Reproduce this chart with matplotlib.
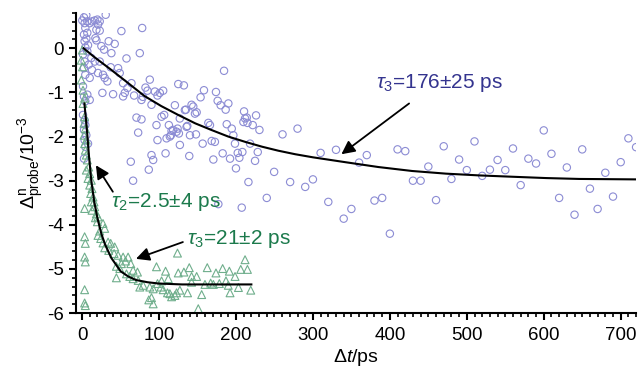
from matplotlib import pyplot as plt
from matplotlib.ticker import MultipleLocator

plt.rcParams['font.family'] = ['Liberation Sans', 'DejaVu Sans']
plt.rcParams['mathtext.fontset'] = 'custom'
plt.rcParams['mathtext.rm'] = 'Liberation Sans'
plt.rcParams['mathtext.it'] = 'Liberation Sans:italic'

# blue circles (delay in ps, signal in 1e-3)
blue_t = [0.3, 2.5, 5.5, 3.3, 6.8, 9.9, 12.9, 16.4, 19.9, 22.9, 20.7, 18.6, 22.9, 30.7,
          4.2, 6.8, 2.5, 5.5, 3.3, 7.7, 4.2, 6.8, 1.2, 3.3, 8.6, 2.5, 4.2, 9.9, 1.2, 6.8,
          2.5, 4.2, 9.9, 17.3, 18.6, 25.1, 34.6, 42.4, 38.1, 28.6, 51.1, 78.1, 75.0, 12.0,
          16.4, 22.9, 12.9, 20.7, 27.2, 29.4, 32.9, 37.2, 46.8, 48.9, 53.3, 64.2, 88.0, 82.4,
          85.0, 101.0, 98.0, 59.0, 55.5, 53.3, 26.4, 40.3, 67.6, 77.2, 90.2, 120.6, 125.0,
          1.2, 3.3, 4.2, 2.5, 5.5, 3.3, 4.2, 2.5, 7.7, 70.7, 77.2, 72.9, 96.7, 103.3, 106.7,
          112.8, 118.4, 124.1, 125.8, 115.4, 109.8, 98.0, 127.1, 90.2, 92.4, 108.5, 63.3,
          86.7, 66.3, 127.0, 184.5, 132.3, 158.4, 154.0, 174.0, 176.2, 180.1, 190.1, 186.6,
          142.3, 144.5, 134.9, 148.9, 210.5, 226.1, 214.0, 146.7, 164.1, 166.2, 188.0, 194.5,
          211.8, 214.9, 221.8, 230.5, 196.6, 136.7, 140.2, 148.0, 156.7, 168.4, 172.6, 198.7,
          218.3, 139.3, 170.6, 182.7, 192.3, 202.3, 208.3, 204.4, 228.3, 224.8, 200.0, 249.6,
          260.5, 280.0, 216.2, 240.0, 270.4, 207.5, 177.1, 94.6, 105.4, 133.6, 116.3, 122.8,
          135.8, 209.7, 114.1, 57.7, 79.0,
          290, 300, 310, 320, 330, 340, 350, 360, 370, 380, 390, 400, 410, 420, 430, 440,
          450, 460, 470, 480, 490, 500, 510, 520, 530, 540, 550, 560, 570, 580, 590, 600,
          610, 620, 630, 640, 650, 660, 670, 680, 690, 700, 710, 720]
blue_y = [0.63, 0.70, 0.75, 0.57, 0.61, 0.57, 0.61, 0.63, 0.65, 0.61, 0.54, 0.42, 0.40, 0.76,
          0.46, 0.35, 0.31, 0.22, 0.16, 0.07, 0.02, -0.07, -0.14, -0.30, -0.37, -0.45, -0.60,
          -0.67, -0.86, -1.05, -1.09, -1.20, -1.17, 0.23, 0.18, 0.05, 0.16, 0.10, -0.11, -0.03,
          0.39, 0.46, -0.11, -0.22, -0.30, -0.30, -0.49, -0.56, -0.60, -0.67, -0.75, -0.43,
          -0.45, -0.56, -0.79, -0.79, -0.71, -0.89, -0.96, -1.01, -1.07, -0.90, -1.01, -1.09,
          -1.01, -1.04, -1.07, -1.17, -1.28, -1.29, -0.81, -1.51, -1.63, -1.74, -1.85, -1.97,
          -2.08, -2.23, -2.50, -2.16, -1.57, -1.61, -1.91, -1.74, -1.55, -1.51, -1.74, -1.85,
          -1.82, -1.93, -1.97, -2.04, -2.08, -2.19, -2.42, -2.53, -2.38, -2.57, -2.75, -3.00,
          -1.59, -0.51, -0.84, -0.95, -1.11, -0.99, -1.19, -1.29, -1.25, -1.39, -1.28, -1.32,
          -1.39, -1.45, -1.43, -1.52, -1.57, -1.48, -1.69, -1.74, -1.72, -1.82, -1.59, -1.69,
          -1.74, -1.85, -1.97, -1.76, -1.97, -1.95, -2.16, -2.10, -2.12, -2.16, -2.16, -2.44,
          -2.52, -2.38, -2.50, -2.37, -2.35, -2.48, -2.35, -2.55, -2.72, -2.80, -1.95, -1.82,
          -3.03, -3.39, -3.03, -3.61, -3.53, -0.98, -0.96, -1.40, -1.87, -1.89, -1.78, -1.67,
          -2.00, -0.23, -1.10,
          -3.14, -2.97, -2.37, -3.48, -2.30, -3.86, -3.64, -2.59, -2.42, -3.45, -3.39, -4.20,
          -2.29, -2.33, -3.00, -3.00, -2.68, -3.44, -2.22, -2.96, -2.52, -2.76, -2.11, -2.89,
          -2.75, -2.53, -2.76, -2.27, -3.10, -2.50, -2.61, -1.86, -2.39, -3.39, -2.70, -3.77,
          -2.29, -3.18, -3.64, -2.82, -3.36, -2.58, -2.04, -2.24]

# green triangles
green_t = [0.3, -1.0, 0.5, -1.0, 1.2, 3.3, 1.2, 3.3, 2.5, 4.2, 2.5, 5.5, 3.3, 4.2, 5.5, 6.8,
           8.6, 5.5, 9.9, 7.7, 12.0, 9.9, 12.9, 11.1, 14.2, 12.0, 15.5, 16.4, 18.6, 20.7, 12.9,
           3.3, 3.3, 4.2, 3.3, 4.2, 3.3, 3.3, 4.2, 17.3, 19.9, 27.2, 29.4, 22.9, 20.7, 24.2,
           27.2, 33.8, 37.2, 29.4, 34.6, 42.4, 41.6, 46.8, 53.3, 59.8, 56.4, 63.3, 51.1, 44.6,
           49.0, 66.3, 72.0, 57.7, 62.0, 44.6, 66.3, 72.9, 79.3, 75.0, 88.0, 92.4, 98.0, 102.4,
           105.4, 108.5, 114.1, 120.6, 125.0, 124.0, 96.7, 90.2, 86.7, 116.3, 111.0, 132.3,
           139.3, 142.3, 162.7, 174.0, 182.7, 191.4, 198.8, 206.2, 214.9, 211.8, 167.1, 170.6,
           178.4, 187.0, 203.2, 192.3, 219.2, 155.4, 151.0, 142.3, 127.1, 122.8, 137.1, 92.4,
           159.7, 190.0, 112.0, 103.3, 148.9]
green_y = [-0.04, -0.27, -0.42, -0.72, -0.95, -1.13, -1.25, -1.55, -1.70, -1.82, -1.97, -2.08,
           -2.16, -2.31, -2.42, -2.53, -2.69, -2.76, -2.84, -2.95, -2.99, -3.10, -3.18, -3.29,
           -3.37, -3.48, -3.48, -3.59, -3.75, -3.82, -3.67, -3.63, -4.27, -4.42, -4.73, -4.84,
           -5.47, -5.77, -5.83, -3.84, -3.93, -3.97, -4.08, -4.14, -4.24, -4.31, -4.41, -4.39,
           -4.42, -4.52, -4.58, -4.50, -4.65, -4.69, -4.73, -4.73, -4.82, -4.88, -4.88, -4.94,
           -4.99, -5.03, -5.07, -5.11, -5.17, -5.20, -5.22, -5.26, -5.37, -5.41, -5.41, -5.45,
           -5.33, -5.41, -5.47, -5.05, -5.56, -5.60, -5.09, -4.64, -4.95, -5.65, -5.70, -5.63,
           -5.54, -5.07, -4.97, -5.17, -4.97, -5.09, -4.99, -5.05, -5.17, -5.01, -5.01, -4.79,
           -5.32, -5.35, -5.33, -5.27, -5.42, -5.54, -5.48, -5.58, -5.90, -5.30, -5.48, -5.54,
           -5.54, -5.79, -5.35, -5.37, -5.22, -5.27, -5.17]

# fitted curves
fit_blue_t = [2, 16, 38, 60, 81, 103, 125, 147, 168, 190, 212, 234, 255, 277, 300, 342, 385,
              429, 473, 516, 559, 603, 646, 720]
fit_blue_y = [0.0, -0.20, -0.49, -0.79, -1.08, -1.31, -1.51, -1.70, -1.85, -2.00, -2.12,
              -2.23, -2.32, -2.40, -2.47, -2.58, -2.69, -2.78, -2.84, -2.88, -2.91, -2.94,
              -2.96, -2.97]
fit_green_t = [3, 5, 7, 9, 12, 16, 20, 25, 30, 38, 50, 60, 70, 85, 100, 130, 160, 190, 220]
fit_green_y = [-1.25, -1.6, -2.0, -2.45, -3.0, -3.5, -3.85, -4.2, -4.45, -4.75, -5.05, -5.17,
               -5.25, -5.30, -5.33, -5.35, -5.35, -5.35, -5.35]

blue_edge = '#8c8cd4'
green_edge = '#6fae8c'
blue_text = '#34348f'
green_text = '#1c7a4c'


def draw_chart():
    """Draw the two transients with their fits and the lifetime labels."""
    fig = plt.figure(figsize=(6.38, 3.71), dpi=100)
    ax = fig.add_axes([0.119, 0.156, 0.878, 0.809])

    ax.scatter(blue_t, blue_y, s=28, marker='o', facecolors='none',
               edgecolors=blue_edge, linewidths=0.8, zorder=2)
    ax.scatter(green_t, green_y, s=32, marker='^', facecolors='none',
               edgecolors=green_edge, linewidths=0.8, zorder=2)
    ax.plot(fit_blue_t, fit_blue_y, color='k', lw=1.5, zorder=3)
    ax.plot(fit_green_t, fit_green_y, color='k', lw=1.5, zorder=3)

    arrow = dict(arrowstyle='-|>', color='k', lw=1.3, mutation_scale=20,
                 shrinkA=0, shrinkB=0)
    ax.annotate('', xy=(337, -2.40), xytext=(425, -1.25), arrowprops=arrow, zorder=4)
    ax.annotate('', xy=(18, -2.65), xytext=(40, -3.25), arrowprops=arrow, zorder=4)
    ax.annotate('', xy=(70, -4.77), xytext=(131, -4.39), arrowprops=arrow, zorder=4)

    ax.text(382, -0.79, r'$\tau_3$=176±25 ps', color=blue_text, fontsize=15,
            va='center', ha='left')
    ax.text(37, -3.48, r'$\tau_2$=2.5±4 ps', color=green_text, fontsize=15,
            va='center', ha='left')
    ax.text(136, -4.31, r'$\tau_3$=21±2 ps', color=green_text, fontsize=15,
            va='center', ha='left')

    ax.set_xlim(-8, 720)
    ax.xaxis.set_major_locator(MultipleLocator(100))
    ax.xaxis.set_minor_locator(MultipleLocator(10))
    ax.yaxis.set_minor_locator(MultipleLocator(0.2))
    ax.set_yticks(range(-6, 1))
    ax.set_yticklabels(['-6', '-5', '-4', '-3', '-2', '-1', '0'])
    ax.set_ylim(-6, 0.8)

    for side in ('top', 'right'):
        ax.spines[side].set_visible(False)
    for side in ('left', 'bottom'):
        ax.spines[side].set_linewidth(1.5)
    ax.tick_params(which='major', direction='out', length=5, width=1.5, labelsize=13.5)
    ax.tick_params(axis='x', which='major', pad=5)
    ax.tick_params(which='minor', direction='out', length=3, width=1.2)

    ax.set_xlabel(r'$\Delta\mathit{t}$/ps', fontsize=14, labelpad=2)
    ax.set_ylabel(r'$\mathit{\Delta}^{\rm n}_{\rm probe}$/10$^{-3}$', fontsize=14,
                  labelpad=1)

    fig.savefig('out.png', dpi=100)


if __name__ == "__main__":
    draw_chart()
